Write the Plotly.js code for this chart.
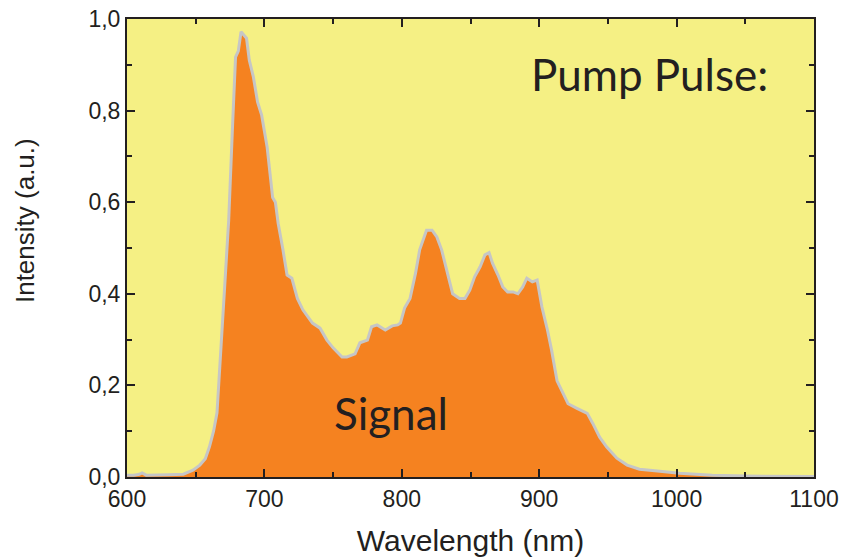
<!DOCTYPE html>
<html>
<head>
<meta charset="utf-8">
<script src="https://cdn.plot.ly/plotly-3.0.1.min.js"></script>
<style>html,body{margin:0;padding:0;background:#fff;}#chart{width:848px;height:559px;}</style>
</head>
<body>
<div id="chart"></div>
<script>
const wavelength = [600,605,609,611,614,620,630,641,648,653,657,660,663,665.5,667,670,674,677,679,681,683,685,687,689,692,695,698,702,706,708,710,713.5,716.5,720,724,728,735,740.5,745.5,750,756.5,760,766,769.5,775,778,782,788,793,797,799,802,806,810,813,818,822,825.5,829,833,837,842,846,849.5,853,857,860.5,863.5,866,870,873.5,877,881,884.5,888,891,895,898.5,902,906,909,913,921,927.5,935,939,944,949,956.5,964,973,986,1002,1026,1050,1100];
const intensity = [0.004,0.004,0.006,0.009,0.004,0.004,0.005,0.006,0.015,0.026,0.04,0.066,0.10,0.14,0.21,0.35,0.56,0.78,0.917,0.93,0.972,0.965,0.958,0.91,0.873,0.819,0.79,0.72,0.61,0.60,0.554,0.496,0.441,0.434,0.39,0.365,0.336,0.325,0.299,0.282,0.262,0.262,0.269,0.293,0.299,0.328,0.332,0.321,0.33,0.332,0.336,0.369,0.39,0.445,0.496,0.539,0.539,0.524,0.496,0.448,0.40,0.39,0.39,0.408,0.437,0.459,0.485,0.49,0.467,0.441,0.415,0.404,0.404,0.40,0.415,0.434,0.426,0.43,0.371,0.321,0.277,0.21,0.16,0.15,0.139,0.117,0.087,0.066,0.041,0.026,0.017,0.013,0.008,0.004,0.002,0.001];
const xTicks = [600,700,800,900,1000,1100];
const yTicks = [0,0.2,0.4,0.6,0.8,1.0];
const yTickLabels = ["0,0","0,2","0,4","0,6","0,8","1,0"];
const labelPump = "Pump Pulse:";
const labelSignal = "Signal";
const xTitle = "Wavelength (nm)";
const yTitle = "Intensity (a.u.)";

const axisFont = {family: "Liberation Sans, Arial, sans-serif", size: 23, color: "#231F20"};

const trace = {
  x: wavelength, y: intensity, type: "scatter", mode: "lines",
  fill: "tozeroy", fillcolor: "#F58220",
  line: {color: "#C6C6C6", width: 3},
  hoverinfo: "skip"
};

const layout = {
  width: 848, height: 559,
  margin: {l: 127, r: 34, t: 19, b: 82},
  paper_bgcolor: "#ffffff",
  plot_bgcolor: "#F5F084",
  showlegend: false,
  xaxis: {
    range: [600, 1100], tickmode: "array", tickvals: xTicks, ticktext: xTicks.map(String),
    ticks: "inside", ticklen: 8, tickwidth: 2, tickcolor: "#231F20",
    minor: {ticks: "inside", ticklen: 5, tickwidth: 2, tickcolor: "#231F20", dtick: 50, tick0: 600, showgrid: false},
    showline: true, linecolor: "#231F20", linewidth: 2, mirror: "ticks",
    showgrid: false, zeroline: false, tickfont: axisFont, automargin: false,
    title: {text: xTitle, font: {family: "Liberation Sans, Arial, sans-serif", size: 30, color: "#231F20"}, standoff: 19}
  },
  yaxis: {
    range: [0, 1.0], tickmode: "array", tickvals: yTicks, ticktext: yTickLabels,
    ticks: "inside", ticklen: 8, tickwidth: 2, tickcolor: "#231F20",
    minor: {ticks: "inside", ticklen: 5, tickwidth: 2, tickcolor: "#231F20", dtick: 0.1, tick0: 0, showgrid: false},
    showline: true, linecolor: "#231F20", linewidth: 2, mirror: "ticks",
    showgrid: false, zeroline: false, tickfont: axisFont, automargin: false
  },
  annotations: [
    {x: -0.1485, y: 0.561, xref: "paper", yref: "paper", text: yTitle, showarrow: false, textangle: -90,
     xanchor: "center", yanchor: "middle", font: {family: "Liberation Sans, Arial, sans-serif", size: 26, color: "#231F20"}},
    {x: 980.6, y: 0.88, xref: "x", yref: "y", text: labelPump, showarrow: false,
     xanchor: "center", yanchor: "middle", font: {family: "Lato, sans-serif", size: 44, color: "#231F20"}},
    {x: 792, y: 0.14, xref: "x", yref: "y", text: labelSignal, showarrow: false,
     xanchor: "center", yanchor: "middle", font: {family: "Lato, sans-serif", size: 44, color: "#231F20"}}
  ]
};

Plotly.newPlot("chart", [trace], layout, {displayModeBar: false, staticPlot: true});
</script>
</body>
</html>
